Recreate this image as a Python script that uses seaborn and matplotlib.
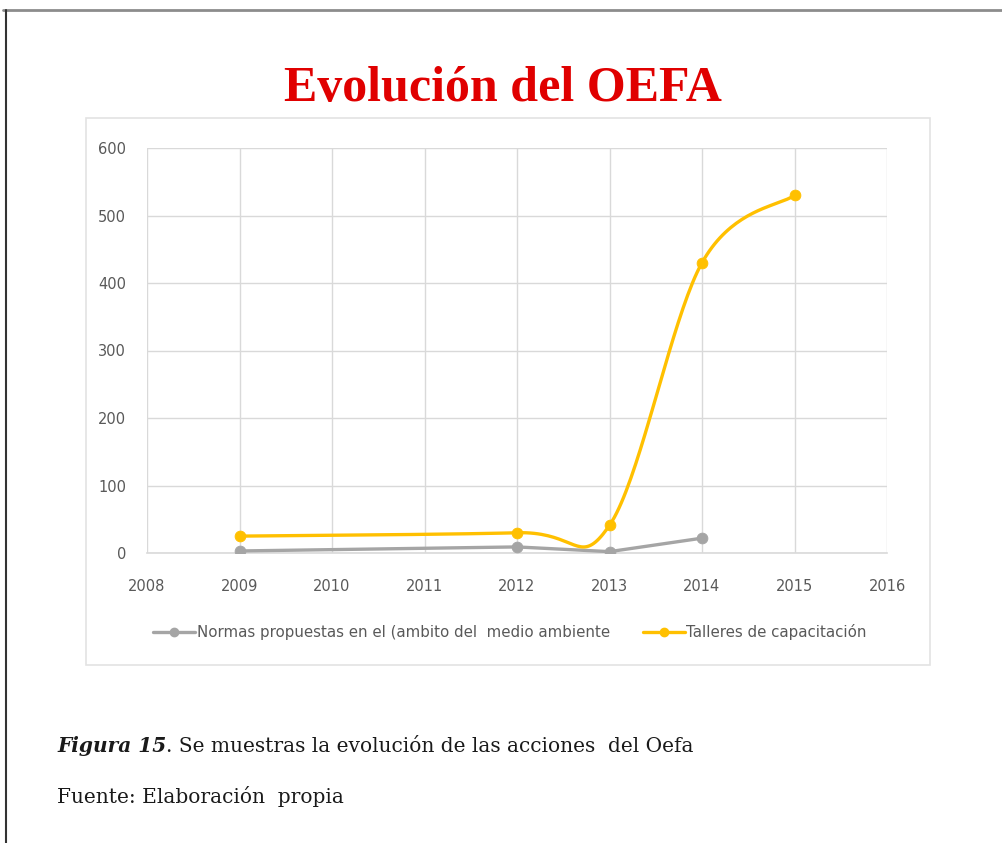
import numpy as np
import pandas as pd
import matplotlib
matplotlib.use("Agg")
import matplotlib.pyplot as plt
import seaborn as sns
from matplotlib.lines import Line2D
from matplotlib.patches import Rectangle

# values
years_normas = [2009, 2012, 2013, 2014]
normas = [3, 9, 2, 22]
years_talleres = [2009, 2012, 2013, 2014, 2015]
talleres = [25, 30, 41, 430, 530]
x_ticks = list(range(2008, 2017))
y_ticks = [0, 100, 200, 300, 400, 500, 600]
label_normas = "Normas propuestas en el (ambito del  medio ambiente"
label_talleres = "Talleres de capacitación"
title = "Evolución del OEFA"
caption_bold = "Figura 15"
caption_rest = ". Se muestras la evolución de las acciones  del Oefa"
source = "Fuente: Elaboración  propia"

GRAY = "#A5A5A5"
GOLD = "#FFC000"
TEXT = "#595959"
GRID = "#D9D9D9"
TICK_FONT = ["Liberation Sans Narrow", "DejaVu Sans"]


def smooth(xs, ys, n=40):
    # excel-style smoothed line: cubic bezier through the points
    pts = np.column_stack([xs, ys]).astype(float)
    out = [pts[:1]]
    t = np.linspace(0, 1, n)[1:, None]
    for i in range(len(pts) - 1):
        p0 = pts[max(i - 1, 0)]
        p1 = pts[i]
        p2 = pts[i + 1]
        p3 = pts[min(i + 2, len(pts) - 1)]
        c1 = p1 + (p2 - p0) / 6
        c2 = p2 - (p3 - p1) / 6
        seg = (1 - t) ** 3 * p1 + 3 * (1 - t) ** 2 * t * c1 + 3 * (1 - t) * t ** 2 * c2 + t ** 3 * p2
        out.append(seg)
    curve = np.vstack(out)
    return pd.DataFrame({"x": curve[:, 0], "y": curve[:, 1]})


sns.set_style("white")

fig = plt.figure(figsize=(10.03, 8.43), dpi=100)
ax = fig.add_axes([147 / 1003, 1 - 553 / 843, (887 - 147) / 1003, (553 - 148) / 843])

# normas: straight segments
df_normas = pd.DataFrame({"x": years_normas, "y": normas})
sns.lineplot(data=df_normas, x="x", y="y", color=GRAY, linewidth=2.4, ax=ax,
             legend=False, zorder=3)
sns.scatterplot(data=df_normas, x="x", y="y", color=GRAY, s=60, edgecolor=GRAY,
                ax=ax, legend=False, zorder=4)

# talleres: smoothed
df_talleres = pd.DataFrame({"x": years_talleres, "y": talleres})
sns.lineplot(data=smooth(years_talleres, talleres), x="x", y="y", sort=False,
             estimator=None, color=GOLD, linewidth=2.4, ax=ax, legend=False, zorder=3)
sns.scatterplot(data=df_talleres, x="x", y="y", color=GOLD, s=60, edgecolor=GOLD,
                ax=ax, legend=False, zorder=4)

ax.set_xlim(2008, 2016)
ax.set_ylim(0, 600)
ax.set_xticks(x_ticks)
ax.set_yticks(y_ticks)
ax.set_xticklabels([str(v) for v in x_ticks], family=TICK_FONT, fontsize=10.5, color=TEXT)
ax.set_yticklabels([str(v) for v in y_ticks], family=TICK_FONT, fontsize=10.5, color=TEXT)
ax.tick_params(axis="x", length=0, pad=19)
ax.tick_params(axis="y", length=0, pad=15)
ax.grid(True, color=GRID, linewidth=1)
ax.set_axisbelow(True)
ax.set_xlabel("")
ax.set_ylabel("")
for side in ["top", "right", "left"]:
    ax.spines[side].set_visible(False)
ax.spines["bottom"].set_color(GRID)
ax.spines["bottom"].set_linewidth(1.2)

handles = [
    Line2D([], [], color=GRAY, linewidth=2.4, marker="o", markersize=6),
    Line2D([], [], color=GOLD, linewidth=2.4, marker="o", markersize=6),
]
leg = fig.legend(handles, [label_normas, label_talleres], loc="center",
                 bbox_to_anchor=(510 / 1003, 1 - 632 / 843), ncol=2, frameon=False,
                 handlelength=2.8, handletextpad=0.1, columnspacing=2.2,
                 prop={"family": TICK_FONT, "size": 10.8})
for txt in leg.get_texts():
    txt.set_color(TEXT)

# chart area border
fig.patches.append(Rectangle((86 / 1003, 1 - 665 / 843), (930 - 86) / 1003, (665 - 118) / 843,
                             transform=fig.transFigure, fill=False, edgecolor="#E3E3E3",
                             linewidth=1.2))
# page border
fig.add_artist(Line2D([0.003, 1], [1 - 10 / 843, 1 - 10 / 843], transform=fig.transFigure,
                      color="#8C8C8C", linewidth=2))
fig.add_artist(Line2D([6 / 1003, 6 / 1003], [0, 1 - 10 / 843], transform=fig.transFigure,
                      color="#333333", linewidth=1.5))

fig.text(503 / 1003, 1 - 89 / 843, title, ha="center", va="center", color="#E00000",
         family="Liberation Serif", fontweight="bold", fontsize=36)

# caption: bold italic part, then the rest right after it
cap = fig.text(57 / 1003, 1 - 752 / 843, caption_bold, ha="left", va="baseline",
               family="DejaVu Serif", fontweight="bold", style="italic", fontsize=14.5,
               color="#1A1A1A")
fig.canvas.draw()
bb = cap.get_window_extent(renderer=fig.canvas.get_renderer())
fig.text(bb.x1 / fig.bbox.width, 1 - 752 / 843, caption_rest, ha="left", va="baseline",
         family="DejaVu Serif", fontsize=14.5, color="#1A1A1A")
fig.text(57 / 1003, 1 - 803 / 843, source, ha="left", va="baseline",
         family="DejaVu Serif", fontsize=14.5, color="#1A1A1A")

fig.savefig("out.png", dpi=100)
